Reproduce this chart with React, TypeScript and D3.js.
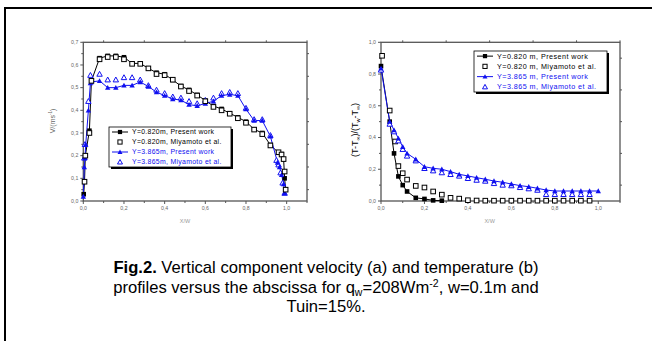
import React from 'react';
import * as d3 from 'd3';

// ---------- Panel (a): vertical velocity ----------
const velBlackPresentX = [0.002, 0.006, 0.01, 0.03, 0.04, 0.08, 0.12, 0.16, 0.20, 0.24, 0.28, 0.32, 0.36, 0.40, 0.44, 0.48, 0.52, 0.56, 0.60, 0.64, 0.68, 0.72, 0.76, 0.80, 0.84, 0.88, 0.92, 0.96, 0.975, 0.985, 0.99, 0.995];
const velBlackPresentY = [0.03, 0.085, 0.2, 0.31, 0.53, 0.63, 0.64, 0.64, 0.634, 0.607, 0.607, 0.585, 0.566, 0.559, 0.534, 0.507, 0.49, 0.468, 0.443, 0.419, 0.406, 0.387, 0.369, 0.35, 0.316, 0.30, 0.247, 0.213, 0.207, 0.184, 0.10, 0.05];
const velBlackExpX = [0.006, 0.01, 0.03, 0.04, 0.08, 0.12, 0.16, 0.20, 0.24, 0.28, 0.32, 0.36, 0.40, 0.44, 0.48, 0.52, 0.56, 0.60, 0.64, 0.68, 0.72, 0.76, 0.80, 0.84, 0.88, 0.92, 0.96, 0.975, 0.985, 0.99, 0.995];
const velBlackExpY = [0.085, 0.2, 0.30, 0.53, 0.625, 0.635, 0.635, 0.625, 0.605, 0.605, 0.585, 0.56, 0.555, 0.535, 0.505, 0.485, 0.465, 0.44, 0.415, 0.40, 0.385, 0.365, 0.345, 0.315, 0.295, 0.245, 0.215, 0.205, 0.185, 0.13, 0.05];
const velBluePresentX = [0.0, 0.005, 0.008, 0.012, 0.025, 0.035, 0.04, 0.08, 0.12, 0.16, 0.20, 0.24, 0.28, 0.32, 0.36, 0.40, 0.44, 0.48, 0.52, 0.56, 0.60, 0.64, 0.68, 0.72, 0.76, 0.80, 0.84, 0.88, 0.92, 0.955, 0.965, 0.975, 0.985, 0.99];
const velBluePresentY = [0.02, 0.15, 0.19, 0.25, 0.40, 0.52, 0.525, 0.53, 0.50, 0.50, 0.51, 0.51, 0.525, 0.505, 0.48, 0.465, 0.45, 0.445, 0.425, 0.42, 0.43, 0.44, 0.465, 0.47, 0.465, 0.405, 0.355, 0.355, 0.285, 0.17, 0.15, 0.115, 0.075, 0.035];
const velBlueExpX = [0.005, 0.008, 0.025, 0.035, 0.08, 0.12, 0.16, 0.20, 0.24, 0.28, 0.32, 0.36, 0.40, 0.44, 0.48, 0.52, 0.56, 0.60, 0.64, 0.68, 0.72, 0.76, 0.80, 0.84, 0.88, 0.92, 0.95, 0.96, 0.97, 0.98, 0.99];
const velBlueExpY = [0.19, 0.25, 0.44, 0.555, 0.56, 0.535, 0.535, 0.545, 0.545, 0.535, 0.51, 0.49, 0.475, 0.46, 0.455, 0.44, 0.43, 0.445, 0.455, 0.475, 0.48, 0.475, 0.41, 0.36, 0.36, 0.29, 0.18, 0.16, 0.125, 0.08, 0.035];

// ---------- Panel (b): temperature ----------
const tBlackPresentX = [0.0, 0.04, 0.06, 0.08, 0.10, 0.12, 0.16, 0.20, 0.24, 0.28];
const tBlackPresentY = [0.85, 0.50, 0.30, 0.155, 0.10, 0.06, 0.02, 0.013, 0.004, 0.002];
const tBlackExpX = [0.005, 0.04, 0.065, 0.08, 0.10, 0.12, 0.16, 0.20, 0.24, 0.28, 0.32, 0.36, 0.40, 0.44, 0.48, 0.52, 0.56, 0.60, 0.64, 0.68, 0.72, 0.76, 0.80, 0.84, 0.88, 0.92, 0.96];
const tBlackExpY = [0.915, 0.57, 0.375, 0.22, 0.175, 0.135, 0.095, 0.085, 0.06, 0.04, 0.02, 0.015, 0.005, 0.003, 0.002, 0.002, 0.002, 0.002, 0.002, 0.002, 0.002, 0.002, 0.002, 0.002, 0.002, 0.002, 0.002];
const tBluePresentX = [0.0, 0.04, 0.06, 0.08, 0.10, 0.12, 0.16, 0.20, 0.24, 0.28, 0.32, 0.36, 0.40, 0.44, 0.48, 0.52, 0.56, 0.60, 0.64, 0.68, 0.72, 0.76, 0.80, 0.84, 0.88, 0.92, 0.96, 1.0];
const tBluePresentY = [0.836, 0.50, 0.447, 0.395, 0.342, 0.30, 0.263, 0.216, 0.206, 0.20, 0.185, 0.168, 0.158, 0.147, 0.137, 0.126, 0.118, 0.107, 0.097, 0.09, 0.08, 0.069, 0.063, 0.063, 0.063, 0.063, 0.063, 0.063];
const tBlueExpX = [0.0, 0.04, 0.06, 0.08, 0.10, 0.12, 0.16, 0.20, 0.24, 0.28, 0.32, 0.36, 0.40, 0.44, 0.48, 0.52, 0.56, 0.60, 0.64, 0.68, 0.72, 0.76, 0.80, 0.84, 0.88, 0.92, 0.96];
const tBlueExpY = [0.826, 0.485, 0.437, 0.38, 0.326, 0.284, 0.254, 0.206, 0.191, 0.179, 0.168, 0.158, 0.143, 0.132, 0.126, 0.111, 0.101, 0.097, 0.086, 0.078, 0.069, 0.042, 0.042, 0.042, 0.042, 0.042, 0.042];

const legendA = ['Y=0.820m, Present work', 'Y=0.820m, Miyamoto et al.', 'Y=3.865m, Present work', 'Y=3.865m, Miyamoto et al.'];
const legendB = ['Y=0.820 m, Present work', 'Y=0.820 m, Miyamoto et al.', 'Y=3.865 m, Present work', 'Y=3.865 m, Miyamoto et al.'];

const xTicks = [0, 0.2, 0.4, 0.6, 0.8, 1.0];
const xMinor = [0.1, 0.3, 0.5, 0.7, 0.9, 1.1];
const yTicksA = [0, 0.1, 0.2, 0.3, 0.4, 0.5, 0.6, 0.7];
const yMinorA = [0.05, 0.15, 0.25, 0.35, 0.45, 0.55, 0.65];
const yTicksB = [0, 0.2, 0.4, 0.6, 0.8, 1.0];
const yMinorB = [0.1, 0.3, 0.5, 0.7, 0.9];

const BLUE = '#1010f0';
const AXIS = '#555';
const FONT = '"Liberation Sans", Arial, sans-serif';

type Marker = 'sq' | 'osq' | 'tri' | 'otri';

function MarkerShape({ kind, x, y, s = 4.6 }: { kind: Marker; x: number; y: number; s?: number }) {
  if (kind === 'sq') return <rect x={x - s / 2} y={y - s / 2} width={s} height={s} fill="#000" />;
  if (kind === 'osq') return <rect x={x - s / 2} y={y - s / 2} width={s} height={s} fill="#fff" stroke="#000" strokeWidth={1} />;
  const h = s * 0.95;
  const pts = `${x},${y - h / 2 - 0.5} ${x - s / 2 - 0.4},${y + h / 2} ${x + s / 2 + 0.4},${y + h / 2}`;
  if (kind === 'tri') return <polygon points={pts} fill={BLUE} />;
  return <polygon points={pts} fill="#fff" stroke={BLUE} strokeWidth={1} />;
}

interface Series { xs: number[]; ys: number[]; marker: Marker; color: string; line: boolean }

interface PanelProps {
  x0: number; x1: number; y0: number; y1: number;
  yMax: number; yTicks: number[]; yMinor: number[];
  series: Series[];
  legend: string[]; legendBox: [number, number, number, number];
  legendFont: number; legendSpacing: number;
  yLabel: React.ReactNode;
}

const fmt = (v: number) => d3.format('.1f')(v).replace('.', ',');

function Panel(p: PanelProps) {
  const x = d3.scaleLinear().domain([0, 1.1]).range([p.x0, p.x1]);
  const y = d3.scaleLinear().domain([0, p.yMax]).range([p.y0, p.y1]);
  const line = d3.line<[number, number]>().x(d => x(d[0])).y(d => y(d[1]));
  const [lx, ly, lw, lh] = p.legendBox;
  const step = lh / 4;
  const markers: Marker[] = ['sq', 'osq', 'tri', 'otri'];
  const colors = ['#000', '#000', BLUE, BLUE];
  return (
    <g fontFamily={FONT}>
      <rect x={p.x0} y={p.y1} width={p.x1 - p.x0} height={p.y0 - p.y1} fill="none" stroke={AXIS} strokeWidth={1.3} />
      {xTicks.map(t => (
        <g key={'xt' + t}>
          <line x1={x(t)} x2={x(t)} y1={p.y0} y2={p.y0 + 3} stroke={AXIS} strokeWidth={1} />
          <text x={x(t)} y={p.y0 + 9} fontSize={5.2} fill="#666" textAnchor="middle">{fmt(t)}</text>
        </g>
      ))}
      {xMinor.map(t => (
        <g key={'xm' + t}>
          <line x1={x(t)} x2={x(t)} y1={p.y0} y2={p.y0 + 2} stroke={AXIS} strokeWidth={1} />
          <line x1={x(t)} x2={x(t)} y1={p.y1} y2={p.y1 - 2} stroke={AXIS} strokeWidth={1} />
        </g>
      ))}
      {p.yTicks.map(t => (
        <g key={'yt' + t}>
          <line x1={p.x0} x2={p.x0 - 3} y1={y(t)} y2={y(t)} stroke={AXIS} strokeWidth={1} />
          <text x={p.x0 - 5} y={y(t) + 1.8} fontSize={5.2} fill="#666" textAnchor="end">{fmt(t)}</text>
        </g>
      ))}
      {p.yMinor.map(t => (
        <g key={'ym' + t}>
          <line x1={p.x0} x2={p.x0 - 2} y1={y(t)} y2={y(t)} stroke={AXIS} strokeWidth={1} />
          <line x1={p.x1} x2={p.x1 + 2} y1={y(t)} y2={y(t)} stroke={AXIS} strokeWidth={1} />
        </g>
      ))}
      <text x={(x(0) + x(1)) / 2} y={p.y0 + 22} fontSize={5.5} fill="#999" textAnchor="middle">X/W</text>
      {p.yLabel}
      {p.series.filter(s => s.line).map((s, i) => (
        <path key={'l' + i} d={line(s.xs.map((v, j) => [v, s.ys[j]]) as [number, number][]) || ''} fill="none" stroke={s.color} strokeWidth={1} />
      ))}
      {p.series.map((s, i) => (
        <g key={'m' + i}>
          {s.xs.map((v, j) => <MarkerShape key={j} kind={s.marker} x={x(v)} y={y(s.ys[j])} />)}
        </g>
      ))}
      <rect x={lx + 2} y={ly + 2} width={lw} height={lh} fill="#000" />
      <rect x={lx} y={ly} width={lw} height={lh} fill="#fff" stroke="#000" strokeWidth={0.8} />
      {p.legend.map((t, i) => {
        const cy = ly + step * (i + 0.5);
        return (
          <g key={'lg' + i}>
            {(i === 0 || i === 2) && <line x1={lx + 3} x2={lx + 19} y1={cy} y2={cy} stroke={colors[i]} strokeWidth={1} />}
            <MarkerShape kind={markers[i]} x={lx + 11} y={cy} s={4.2} />
            <text x={lx + 23} y={cy + 2.4} fontSize={p.legendFont} fill={colors[i]} letterSpacing={p.legendSpacing}>{t}</text>
          </g>
        );
      })}
    </g>
  );
}

export default function App() {
  const seriesA: Series[] = [
    { xs: velBlackPresentX, ys: velBlackPresentY, marker: 'sq', color: '#000', line: true },
    { xs: velBlueExpX, ys: velBlueExpY, marker: 'otri', color: BLUE, line: false },
    { xs: velBluePresentX, ys: velBluePresentY, marker: 'tri', color: BLUE, line: true },
    { xs: velBlackExpX, ys: velBlackExpY, marker: 'osq', color: '#000', line: false },
  ];
  const seriesB: Series[] = [
    { xs: tBlackPresentX, ys: tBlackPresentY, marker: 'sq', color: '#000', line: true },
    { xs: tBlackExpX, ys: tBlackExpY, marker: 'osq', color: '#000', line: false },
    { xs: tBlueExpX, ys: tBlueExpY, marker: 'otri', color: BLUE, line: false },
    { xs: tBluePresentX, ys: tBluePresentY, marker: 'tri', color: BLUE, line: true },
  ];
  return (
    <svg width={652} height={341} style={{ position: 'absolute', left: 0, top: 0, background: '#fff' }}>
      <rect x={0} y={0} width={652} height={341} fill="#fff" />
      <rect x={5} y={8} width={700} height={400} fill="none" stroke="#000" strokeWidth={2} />
      <Panel x0={83.3} x1={307} y0={201} y1={42.3} yMax={0.7} yTicks={yTicksA} yMinor={yMinorA}
        series={seriesA} legend={legendA} legendBox={[109, 127, 122, 40]} legendFont={6.9} legendSpacing={0.3}
        yLabel={<text transform="translate(55,121) rotate(-90)" fontSize={7} fill="#666" textAnchor="middle">V/(ms<tspan fontSize={4.5} dy={-3}>-1</tspan><tspan dy={3}>)</tspan></text>} />
      <Panel x0={381} x1={620} y0={201} y1={42.3} yMax={1.0} yTicks={yTicksB} yMinor={yMinorB}
        series={seriesB} legend={legendB} legendBox={[474, 51, 133, 41]} legendFont={7.2} legendSpacing={0.45}
        yLabel={<text transform="translate(358,130) rotate(-90)" fontSize={9} fill="#000" textAnchor="middle">(T-T<tspan fontSize={5.5} dy={2}>∞</tspan><tspan dy={-2}>)/(T</tspan><tspan fontSize={5.5} dy={2}>w</tspan><tspan dy={-2}>-T</tspan><tspan fontSize={5.5} dy={2}>∞</tspan><tspan dy={-2}>)</tspan></text>} />
      <g fontFamily={FONT} fontSize={16.6} fill="#000" textAnchor="middle">
        <text x={326} y={273}><tspan fontWeight="bold">Fig.2.</tspan> Vertical component velocity (a) and temperature (b)</text>
        <text x={326} y={293}>profiles versus the abscissa for q<tspan fontSize={10.5} dy={3}>w</tspan><tspan dy={-3}>=208Wm</tspan><tspan fontSize={10.5} dy={-6}>-2</tspan><tspan dy={6}>, w=0.1m and</tspan></text>
        <text x={326} y={312}>Tuin=15%.</text>
      </g>
    </svg>
  );
}
